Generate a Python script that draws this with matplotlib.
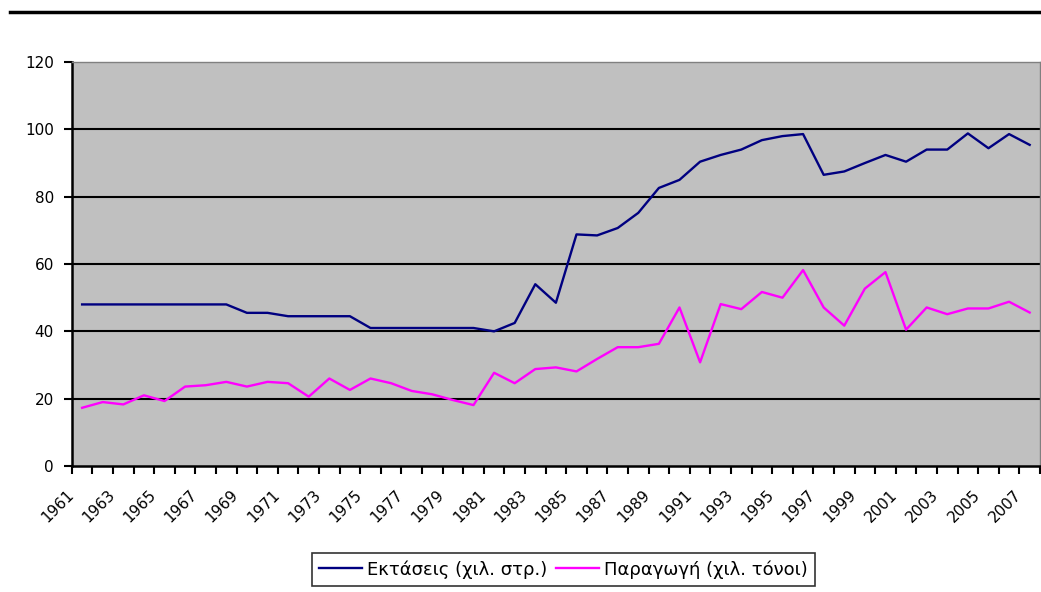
import matplotlib.pyplot as plt
import matplotlib.transforms as mtransforms
import numpy as np
from matplotlib.lines import Line2D

years = list(range(1961, 2008))

# Εκτάσεις (χιλ. στρ.)
ektaseis = [48, 48, 48, 48, 48, 48, 48, 48, 45.5, 45.5,
            44.5, 44.5, 44.5, 44.5, 41, 41, 41, 41, 41, 41,
            40, 42.5, 54, 48.5, 68.8, 68.5, 70.7, 75.2, 82.6, 85,
            90.4, 92.4, 94, 96.8, 98, 98.6, 86.5, 87.5, 90, 92.4,
            90.4, 94, 94, 98.8, 94.4, 98.6, 95.4]

# Παραγωγή (χιλ. τόνοι)
paragogi = [17.3, 19, 18.3, 21, 19.3, 23.6, 24, 25, 23.6, 25,
            24.6, 20.6, 26, 22.6, 26, 24.6, 22.3, 21.3, 19.6, 18.1,
            27.7, 24.6, 28.8, 29.3, 28.1, 31.8, 35.3, 35.3, 36.3, 47.1,
            30.8, 48.1, 46.6, 51.7, 50, 58.2, 47.1, 41.7, 52.7, 57.6,
            40.5, 47.1, 45.1, 46.8, 46.8, 48.8, 45.6]

labels = ['Εκτάσεις (χιλ. στρ.)', 'Παραγωγή (χιλ. τόνοι)']
yticks = [0, 20, 40, 60, 80, 100, 120]

plt.rcParams['font.family'] = ['DejaVu Sans']

fig = plt.figure(figsize=(10.41, 5.92), dpi=100)
ax = fig.add_axes([0.069, 0.2128, 0.93, 0.6824])
ax.set_facecolor('#C0C0C0')

x = np.arange(len(years))
ax.plot(x, ektaseis, color='#000080', linewidth=1.7, label=labels[0])
ax.plot(x, paragogi, color='#FF00FF', linewidth=1.7, label=labels[1])

ax.set_xlim(-0.5, len(years) - 0.5)
ax.set_ylim(0, 120)

ax.set_yticks(yticks)
ax.tick_params(axis='y', length=6, width=1.5, labelsize=11, pad=7, direction='out')
for v in yticks[1:-1]:
    ax.axhline(v, color='black', linewidth=1.5, zorder=1)

ax.set_xticks(np.arange(-0.5, len(years), 1.0))
ax.set_xticklabels([])
ax.tick_params(axis='x', which='major', length=6, width=1.5, direction='out')
ax.set_xticks(x[::2], minor=True)
ax.set_xticklabels([str(y) for y in years[::2]], minor=True, rotation=45,
                   ha='right', va='center', rotation_mode='anchor', fontsize=11)
ax.tick_params(axis='x', which='minor', length=0, pad=19)
shift = mtransforms.ScaledTranslation(-11 / 100, 0, fig.dpi_scale_trans)
for t in ax.get_xticklabels(minor=True):
    t.set_transform(t.get_transform() + shift)

for s in ['left', 'bottom']:
    ax.spines[s].set_linewidth(1.8)
    ax.spines[s].set_color('black')
for s in ['top', 'right']:
    ax.spines[s].set_linewidth(1.0)
    ax.spines[s].set_color('#808080')

leg = fig.legend(loc='upper center', bbox_to_anchor=(0.541, 0.066), ncol=2,
                 frameon=True, fancybox=False, fontsize=13, handlelength=2.4,
                 handletextpad=0.25, columnspacing=0.5, borderpad=0.4,
                 borderaxespad=0)
leg.get_frame().set_edgecolor('black')
leg.get_frame().set_linewidth(1.2)

fig.add_artist(Line2D([10 / 1041, 1.0], [1 - 12 / 592, 1 - 12 / 592],
                      color='black', linewidth=2.5, transform=fig.transFigure))

fig.savefig('out.png', dpi=100)
